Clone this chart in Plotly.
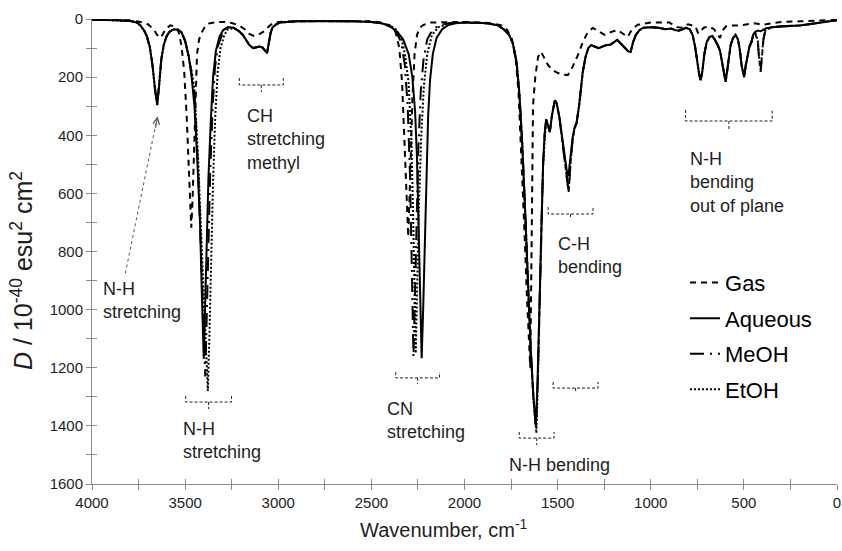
import plotly.graph_objects as go

# ---------------- spectra: wavenumber (cm-1) and D (10^-40 esu^2 cm^2) ----------------
gas_wn = [4000, 3900, 3800, 3740, 3700, 3670, 3650, 3635, 3622, 3605, 3580, 3555, 3535, 3520,
          3505, 3492, 3482, 3473, 3467, 3460, 3452, 3444, 3436, 3425, 3410, 3395, 3370, 3330,
          3290, 3250, 3210, 3180, 3160, 3130, 3110, 3090, 3070, 3050, 3030, 3000, 2900, 2700,
          2500, 2450, 2400, 2370, 2350, 2335, 2320, 2310, 2302, 2292, 2280, 2268, 2255, 2240,
          2220, 2180, 2100, 2000, 1900, 1850, 1800, 1770, 1745, 1725, 1710, 1695, 1680, 1665,
          1655, 1647, 1640, 1632, 1620, 1605, 1589, 1570, 1552, 1530, 1498, 1470, 1445, 1420,
          1391, 1365, 1338, 1311, 1280, 1247, 1215, 1178, 1150, 1124, 1100, 1070, 1000, 900,
          860, 830, 800, 760, 745, 730, 715, 690, 660, 640, 628, 615, 595, 560, 520, 480, 440,
          400, 300, 200, 100, 0]
gas_d = [2, 3, 5, 10, 18, 35, 55, 65, 55, 35, 22, 25, 45, 90,
         180, 330, 500, 650, 718, 620, 420, 240, 120, 70, 45, 28, 15, 10,
         10, 14, 22, 35, 50, 58, 55, 48, 40, 25, 15, 10, 8, 7,
         8, 12, 22, 45, 100, 220, 450, 650, 750, 550, 280, 120, 55, 30,
         20, 12, 10, 10, 12, 15, 22, 38, 70, 140, 250, 450, 700, 950,
         1100, 1200, 800, 296, 200, 130, 113, 135, 158, 175, 186, 192, 193, 165,
         124, 80, 45, 31, 42, 55, 45, 38, 50, 62, 35, 20, 12, 12,
         28, 30, 18, 25, 50, 40, 30, 25, 35, 55, 65, 40, 25, 22, 22, 18, 15,
         20, 10, 8, 6, 3]

aq_wn = [4000, 3900, 3800, 3760, 3740, 3720, 3705, 3690, 3675, 3662, 3650, 3640, 3628, 3615,
         3600, 3585, 3565, 3540, 3520, 3500, 3480, 3465, 3450, 3435, 3420, 3410, 3400, 3393,
         3385, 3375, 3362, 3350, 3335, 3315, 3295, 3270, 3240, 3210, 3190, 3170, 3155, 3135,
         3120, 3100, 3085, 3070, 3060, 3050, 3040, 3030, 3010, 2990, 2900, 2800, 2700, 2600,
         2500, 2450, 2420, 2390, 2360, 2330, 2300, 2280, 2265, 2255, 2247, 2240, 2230, 2222,
         2215, 2205, 2195, 2185, 2170, 2150, 2120, 2090, 2050, 2000, 1950, 1900, 1850, 1820,
         1790, 1760, 1740, 1720, 1705, 1690, 1675, 1660, 1645, 1630, 1617, 1608, 1600, 1594,
         1587, 1578, 1570, 1562, 1552, 1542, 1530, 1515, 1505, 1490, 1475, 1460, 1450, 1442,
         1432, 1420, 1410, 1398, 1385, 1375, 1365, 1350, 1335, 1320, 1300, 1280, 1260, 1240,
         1215, 1195, 1180, 1160, 1140, 1120, 1108, 1095, 1080, 1060, 1040, 1000, 960, 920,
         890, 870, 850, 830, 810, 790, 775, 762, 750, 740, 732, 723, 712, 700, 685, 670, 655,
         640, 628, 615, 605, 598, 590, 580, 571, 558, 545, 532, 522, 512, 505, 499, 490, 480,
         470, 459, 450, 440, 425, 410, 395, 380, 350, 300, 250, 200, 150, 100, 50, 0]
aq_d = [2, 3, 6, 12, 22, 40, 60, 95, 160, 240, 296, 230, 140, 90,
        60, 45, 36, 36, 45, 75, 130, 200, 300, 480, 700, 950, 1170, 1000,
        780, 550, 347, 200, 110, 60, 38, 28, 30, 42, 55, 75, 90, 100,
        98, 95, 98, 110, 117, 80, 45, 28, 18, 12, 8, 7, 7, 8,
        10, 14, 20, 30, 45, 70, 120, 200, 320, 480, 700, 950, 1167, 1000,
        800, 520, 330, 210, 120, 65, 35, 22, 15, 12, 12, 14, 18, 22,
        35, 55, 85, 150, 260, 430, 650, 900, 1130, 1300, 1398, 1250, 1050, 900,
        700, 500, 400, 345, 365, 389, 330, 280, 290, 340, 410, 480, 526, 540,
        480, 410, 375, 355, 300, 240, 182, 130, 100, 90, 95, 100, 95, 90,
        88, 80, 72, 85, 100, 112, 113, 80, 55, 38, 30, 28, 30, 35,
        33, 38, 40, 34, 30, 36, 55, 95, 150, 190, 210, 180, 120, 80, 62, 58, 72,
        90, 110, 160, 200, 216, 180, 120, 89, 65, 55, 70, 105, 160, 190, 200, 160, 120,
        95, 79, 55, 45, 40, 42, 38, 32, 28, 25, 24, 22, 18, 14, 8, 4]

meoh_wn = [4000, 3900, 3800, 3760, 3740, 3720, 3705, 3690, 3675, 3662, 3650, 3640, 3628, 3615,
           3600, 3585, 3565, 3540, 3520, 3500, 3480, 3465, 3450, 3430, 3415, 3403, 3392, 3385,
           3375, 3365, 3352, 3340, 3325, 3300, 3280, 3240, 3210, 3190, 3170, 3155, 3135, 3120,
           3100, 3085, 3070, 3060, 3050, 3040, 3030, 3010, 2990, 2900, 2800, 2700, 2600, 2500,
           2450, 2400, 2370, 2340, 2320, 2305, 2292, 2283, 2274, 2266, 2258, 2248, 2235, 2220,
           2200, 2170, 2130, 2080, 2000, 1950, 1900, 1850, 1820, 1790, 1760, 1740, 1720, 1705,
           1690, 1675, 1660, 1645, 1630, 1616, 1607, 1600, 1594, 1587, 1578, 1570, 1562, 1552,
           1542, 1530, 1515, 1505, 1490, 1475, 1460, 1450, 1441, 1430, 1420, 1410, 1398, 1385,
           1375, 1365, 1350, 1335, 1320, 1300, 1280, 1260, 1240, 1215, 1195, 1180, 1160, 1140,
           1120, 1108, 1095, 1080, 1060, 1040, 1000, 960, 920, 890, 870, 850, 830, 810, 790,
           775, 762, 750, 740, 732, 723, 712, 700, 685, 670, 655, 640, 628, 615, 605, 598, 590,
           580, 571, 558, 545, 532, 522, 512, 505, 499, 490, 480, 470, 459, 450, 440, 425, 418,
           410, 403, 395, 385, 350, 300, 250, 200, 150, 100, 50, 0]
meoh_d = [2, 3, 6, 12, 22, 40, 60, 95, 160, 240, 296, 230, 140, 90,
          60, 45, 36, 36, 45, 75, 130, 190, 260, 520, 800, 1050, 1230, 1050,
          760, 520, 300, 170, 95, 50, 32, 30, 42, 55, 75, 90, 100, 98,
          95, 98, 110, 117, 80, 45, 28, 18, 12, 8, 7, 7, 8, 10,
          15, 25, 40, 80, 160, 300, 550, 850, 1163, 950, 700, 450, 250, 140,
          70, 35, 20, 14, 12, 12, 14, 18, 22, 35, 55, 85, 150, 260,
          430, 650, 900, 1130, 1300, 1410, 1250, 1050, 900, 700, 500, 400, 345, 365,
          389, 330, 280, 290, 340, 420, 500, 560, 595, 490, 420, 380, 358, 300,
          240, 182, 130, 100, 90, 95, 100, 95, 90, 88, 80, 72, 85, 100,
          112, 113, 80, 55, 38, 30, 28, 30, 35, 33, 38, 40, 34, 30, 36,
          55, 95, 150, 190, 210, 180, 120, 80, 62, 58, 72, 90, 110, 160, 200, 216, 180,
          120, 89, 65, 55, 70, 105, 160, 190, 200, 160, 120, 95, 79, 55, 45, 80, 140,
          182, 130, 70, 40, 28, 25, 24, 22, 18, 14, 8, 4]

etoh_wn = [4000, 3900, 3800, 3760, 3740, 3720, 3705, 3690, 3675, 3662, 3650, 3640, 3628, 3615,
           3600, 3585, 3565, 3540, 3520, 3500, 3480, 3465, 3450, 3430, 3410, 3395, 3385, 3378,
           3370, 3360, 3350, 3338, 3325, 3310, 3290, 3270, 3240, 3210, 3190, 3170, 3155, 3135,
           3120, 3100, 3085, 3070, 3060, 3050, 3040, 3030, 3010, 2990, 2900, 2800, 2700, 2600,
           2500, 2450, 2400, 2370, 2340, 2320, 2300, 2285, 2275, 2268, 2262, 2255, 2245, 2232,
           2218, 2200, 2175, 2140, 2080, 2000, 1950, 1900, 1850, 1820, 1790, 1760, 1740, 1720,
           1705, 1690, 1675, 1660, 1645, 1630, 1614, 1606, 1600, 1594, 1587, 1578, 1570, 1562,
           1552, 1542, 1530, 1515, 1505, 1490, 1475, 1460, 1450, 1441, 1430, 1420, 1410, 1398,
           1385, 1375, 1365, 1350, 1335, 1320, 1300, 1280, 1260, 1240, 1215, 1195, 1180, 1160,
           1140, 1120, 1108, 1095, 1080, 1060, 1040, 1000, 960, 920, 890, 870, 850, 830, 810,
           790, 775, 762, 750, 740, 732, 723, 712, 700, 685, 670, 655, 640, 628, 615, 605, 598,
           590, 580, 571, 558, 545, 532, 522, 512, 505, 499, 490, 480, 470, 459, 450, 440, 425,
           418, 410, 403, 395, 385, 350, 300, 250, 200, 150, 100, 50, 0]
etoh_d = [2, 3, 6, 12, 22, 40, 60, 95, 160, 240, 290, 230, 140, 90,
          60, 45, 36, 36, 45, 75, 130, 180, 240, 480, 800, 1050, 1200, 1280,
          1100, 800, 560, 330, 180, 100, 55, 35, 32, 42, 55, 75, 90, 100,
          98, 95, 98, 110, 117, 80, 45, 28, 18, 12, 8, 7, 7, 8,
          10, 14, 22, 35, 65, 120, 220, 420, 700, 950, 1150, 950, 650, 400,
          230, 120, 55, 28, 16, 12, 12, 14, 18, 22, 35, 55, 85, 150,
          260, 430, 650, 900, 1130, 1310, 1425, 1250, 1060, 900, 700, 500, 400, 345,
          365, 389, 330, 280, 290, 340, 420, 500, 560, 595, 490, 420, 380, 358,
          300, 240, 182, 130, 100, 90, 95, 100, 95, 90, 88, 80, 72, 85,
          100, 112, 113, 80, 55, 38, 30, 28, 30, 35, 33, 38, 40, 34, 30,
          36, 55, 95, 150, 190, 210, 180, 120, 80, 62, 58, 72, 90, 110, 160, 200, 216,
          180, 120, 89, 65, 55, 70, 105, 160, 190, 200, 160, 120, 95, 79, 55, 45, 75,
          135, 175, 125, 70, 40, 28, 25, 24, 22, 18, 14, 8, 4]

# axis ticks
x_ticks = [4000, 3500, 3000, 2500, 2000, 1500, 1000, 500, 0]
y_ticks = [0, 200, 400, 600, 800, 1000, 1200, 1400, 1600]

# band assignments: label text, anchor (wavenumber, D) of the text block's top-left corner
band_labels = [
    ("N-H<br>stretching", 3952, 888),
    ("CH<br>stretching<br>methyl", 3176, 293),
    ("N-H<br>stretching", 3524, 1370),
    ("CN<br>stretching", 2428, 1302),
    ("N-H bending", 1770, 1494),
    ("C-H<br>bending", 1508, 733),
    ("N-H<br>bending<br>out of plane", 802, 441),
]

# brackets under the bands: left, right, arm top, base, centre tick end (wavenumber / D units)
brackets = [
    (3209, 2973, 203, 227, 251),
    (3497, 3251, 1297, 1318, 1342),
    (2369, 2134, 1215, 1235, 1256),
    (1706, 1519, 1421, 1442, 1466),
    (1524, 1283, 1249, 1270, 1287),
    (1551, 1310, 647, 671, 688),
    (813, 348, 313, 351, 385),
]

FONT = "Liberation Sans, Arial, sans-serif"
INK = "#1e1e1e"
AXIS = "#8c8c8c"

fig = go.Figure()

series = [
    ("Gas", gas_wn, gas_d, "6px,5px"),
    ("Aqueous", aq_wn, aq_d, "solid"),
    ("MeOH", meoh_wn, meoh_d, "14px,6px,2px,6px"),
    ("EtOH", etoh_wn, etoh_d, "2px,2px"),
]
for name, xs, ys, dash in series:
    fig.add_trace(go.Scatter(
        x=xs, y=ys, name=name, mode="lines", legendgroup=name,
        line=dict(color="black", width=2, dash=dash),
        hoverinfo="skip",
    ))

# dummy trace so the overlay axes (inner half of the crossing ticks) are drawn
fig.add_trace(go.Scatter(x=[None], y=[None], xaxis="x2", yaxis="y2",
                         showlegend=False, hoverinfo="skip"))

for left, right, top, base, tip in brackets:
    mid = (left + right) / 2
    fig.add_shape(
        type="path", xref="x", yref="y",
        path=(f"M {left},{top} L {left},{base} L {right},{base} L {right},{top} "
              f"M {mid},{base} L {mid},{tip}"),
        line=dict(color=INK, width=1, dash="3px,2px"),
    )

for text, wn, d in band_labels:
    fig.add_annotation(
        x=wn, y=d, xref="x", yref="y", text=text, showarrow=False,
        xanchor="left", yanchor="top", align="left",
        font=dict(family=FONT, size=18, color=INK),
    )

# pointer from the left-hand label to the free N-H stretching band
fig.add_shape(type="line", xref="x", yref="y", x0=3821, y0=875, x1=3652, y1=345,
              line=dict(color="#555555", width=1, dash="dot"))
fig.add_annotation(x=3648, y=335, ax=3660, ay=380, xref="x", yref="y",
                   axref="x", ayref="y", text="", showarrow=True,
                   arrowhead=5, arrowsize=1.3, arrowwidth=1, arrowcolor="#555555")

# axis titles
fig.add_annotation(
    x=-0.094, y=0.46, xref="paper", yref="paper", textangle=-90, showarrow=False,
    xanchor="center", yanchor="middle",
    text="<i>D</i> / 10<sup>-40</sup> esu<sup>2</sup> cm<sup>2</sup>",
    font=dict(family=FONT, size=25, color=INK),
)
fig.add_annotation(
    x=0.472, y=-0.095, xref="paper", yref="paper", showarrow=False,
    xanchor="center", yanchor="middle",
    text="Wavenumber, cm<sup>-1</sup>",
    font=dict(family=FONT, size=20, color=INK),
)

axis_common = dict(showgrid=False, zeroline=False, linecolor=AXIS, linewidth=1,
                   tickcolor=AXIS, ticklen=5, tickwidth=1)

fig.update_layout(
    width=842, height=551,
    margin=dict(l=92, r=1, t=19, b=67),
    paper_bgcolor="white", plot_bgcolor="white",
    font=dict(family=FONT, color=INK),
    xaxis=dict(range=[4000, 0], tickvals=x_ticks, ticks="outside", showline=True,
               tickfont=dict(size=15, color=INK), ticklabeloverflow="allow",
               minor=dict(dtick=250, ticks="outside", ticklen=5, tickcolor=AXIS),
               **axis_common),
    yaxis=dict(range=[1600, 0], tickvals=y_ticks, ticks="outside", showline=True,
               tickfont=dict(size=15, color=INK), ticklabeloverflow="allow",
               minor=dict(dtick=100, ticks="outside", ticklen=5, tickcolor=AXIS),
               **axis_common),
    xaxis2=dict(overlaying="x", anchor="y2", range=[4000, 0], dtick=250, tick0=0,
                ticks="inside", showticklabels=False, showline=False, showgrid=False,
                zeroline=False, tickcolor=AXIS, ticklen=5),
    yaxis2=dict(overlaying="y", anchor="x2", range=[1600, 0], dtick=100, tick0=0,
                ticks="inside", showticklabels=False, showline=False, showgrid=False,
                zeroline=False, tickcolor=AXIS, ticklen=5),
    legend=dict(x=0.796, y=0.478, xanchor="left", yanchor="top",
                font=dict(family=FONT, size=22, color="black"),
                bgcolor="rgba(0,0,0,0)", itemwidth=30, tracegroupgap=4,
                traceorder="grouped"),
    showlegend=True,
)

fig.write_html("out.html")
